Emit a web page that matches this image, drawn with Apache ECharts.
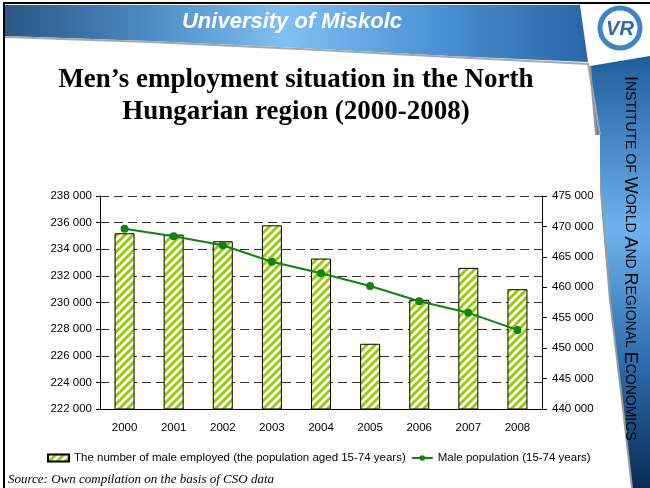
<!DOCTYPE html>
<html>
<head>
<meta charset="utf-8">
<title>Men's employment situation</title>
<script src="https://cdn.jsdelivr.net/npm/echarts@6/dist/echarts.min.js"></script>
<style>
    html, body { margin: 0; padding: 0; background: #fff; }
    #main { width: 650px; height: 488px; }
</style>
</head>
<body>
<div id="main"></div>
<script>
    var years = ['2000', '2001', '2002', '2003', '2004', '2005', '2006', '2007', '2008'];
    // male employed, left axis
    var employed = [235200, 235100, 234600, 235800, 233300, 226900, 230200, 232600, 231000];
    // male population 15-74, right axis
    var population = [469600, 468400, 466900, 464200, 462300, 460200, 457700, 455800, 453000];
    var leftRange = [222000, 238000, 2000];
    var rightRange = [440000, 475000, 5000];
    var seriesNames = ['The number of male employed (the population aged 15-74 years)', 'Male population (15-74 years)'];

    function fmt(v) {
        return String(v).replace(/\B(?=(\d{3})+(?!\d))/g, ' ');
    }

    // striped fill for the bars
    var pat = document.createElement('canvas');
    pat.width = 8;
    pat.height = 8;
    var ctx = pat.getContext('2d');
    ctx.fillStyle = '#fff';
    ctx.fillRect(0, 0, 8, 8);
    ctx.strokeStyle = '#99cc00';
    ctx.lineWidth = 3;
    ctx.beginPath();
    ctx.moveTo(-2, 10); ctx.lineTo(10, -2);
    ctx.moveTo(-2, 2); ctx.lineTo(2, -2);
    ctx.moveTo(6, 10); ctx.lineTo(10, 6);
    ctx.stroke();

    var myChart = echarts.init(document.getElementById('main'));
    var option = {
        animation: false,
        textStyle: { fontFamily: 'Liberation Sans, Arial, sans-serif' },
        graphic: [
            // header band
            {
                type: 'polygon', z: -10,
                shape: { points: [[5, 5], [580, 5], [588, 62], [450, 56], [300, 48], [150, 41], [5, 36]] },
                style: {
                    fill: { type: 'linear', x: 0, y: 0, x2: 1, y2: 0, colorStops: [
                        { offset: 0, color: '#2a5786' },
                        { offset: 0.25, color: '#4d8cc6' },
                        { offset: 0.48, color: '#80c0f4' },
                        { offset: 0.75, color: '#4a90d2' },
                        { offset: 1, color: '#2866a8' }
                    ] }
                }
            },
            {
                type: 'polyline', z: -9,
                shape: { points: [[5, 37], [150, 42], [300, 49], [450, 57], [588, 64], [600, 135]] },
                style: { stroke: '#a8a8a8', lineWidth: 2, fill: null }
            },
            // right strip
            {
                type: 'polygon', z: -10,
                shape: { points: [[590, 66], [650, 56], [650, 488], [632, 488], [622, 400], [610, 300], [600, 180]] },
                style: {
                    fill: { type: 'linear', x: 0, y: 0, x2: 0, y2: 1, colorStops: [
                        { offset: 0, color: '#1f5c9c' },
                        { offset: 0.4, color: '#6eb4ec' },
                        { offset: 0.7, color: '#2e6eb0' },
                        { offset: 1, color: '#0b2c55' }
                    ] }
                }
            },
            {
                type: 'polyline', z: -9,
                shape: { points: [[590, 66], [600, 180], [610, 300], [622, 400], [632, 488]] },
                style: { stroke: '#9a9a9a', lineWidth: 2, fill: null }
            },
            {
                type: 'text', z: -8, x: 630, y: 76, rotation: -Math.PI / 2,
                style: {
                    text: '{b|I}{s|NSTITUTE OF }{b|W}{s|ORLD }{b|A}{s|ND }{b|R}{s|EGIONAL }{b|E}{s|CONOMICS}',
                    textAlign: 'left', textVerticalAlign: 'middle',
                    rich: {
                        b: { fontSize: 18, color: '#fff', fontFamily: 'Liberation Sans' },
                        s: { fontSize: 14, color: '#fff', fontFamily: 'Liberation Sans' }
                    }
                }
            },
            // logo
            {
                type: 'circle', z: -8,
                shape: { cx: 620, cy: 28, r: 20 },
                style: { fill: null, stroke: '#3d85c8', lineWidth: 5 }
            },
            {
                type: 'text', z: -8, x: 620, y: 29,
                style: { text: 'VR', textAlign: 'center', textVerticalAlign: 'middle', fontSize: 20, fontWeight: 'bold', fontStyle: 'italic', fill: '#2f6aa8', fontFamily: 'Liberation Sans' }
            },
            // white chart box
            {
                type: 'rect', z: -7,
                shape: { x: 6, y: 135, width: 594, height: 332 },
                style: { fill: '#fff' }
            },
            // frame
            {
                type: 'polyline', z: 10,
                shape: { points: [[4, 488], [4, 3], [650, 3]] },
                style: { stroke: '#000', lineWidth: 2, fill: null }
            },
            {
                type: 'text', x: 292, y: 22,
                style: { text: 'University of Miskolc', textAlign: 'center', textVerticalAlign: 'middle', fontSize: 22, fontWeight: 'bold', fontStyle: 'italic', fill: '#fff', fontFamily: 'Liberation Sans' }
            },
            {
                type: 'text', x: 296, y: 96,
                style: {
                    text: 'Men\u2019s employment situation in the North\nHungarian region (2000-2008)',
                    textAlign: 'center', textVerticalAlign: 'middle', fontSize: 27, lineHeight: 32,
                    fontWeight: 'bold', fill: '#000', fontFamily: 'Liberation Serif'
                }
            },
            {
                type: 'text', x: 8, y: 480,
                style: { text: 'Source: Own compilation on the basis of CSO data', textVerticalAlign: 'middle', fontSize: 13, fontStyle: 'italic', fill: '#000', fontFamily: 'Liberation Serif' }
            }
        ],
        grid: { left: 100, right: 108, top: 196, bottom: 79 },
        legend: {
            left: 42, top: 447,
            itemWidth: 21, itemHeight: 7, itemGap: 5,
            textStyle: { fontSize: 11.5, color: '#000' },
            data: [{ name: seriesNames[0], icon: 'rect' }, { name: seriesNames[1] }]
        },
        xAxis: {
            type: 'category',
            data: years,
            axisLine: { lineStyle: { color: '#000', width: 1 } },
            axisTick: { length: 4, lineStyle: { color: '#000' } },
            axisLabel: { color: '#000', fontSize: 11.5, margin: 13 }
        },
        yAxis: [
            {
                type: 'value',
                min: leftRange[0], max: leftRange[1], interval: leftRange[2],
                axisLine: { show: true, lineStyle: { color: '#000' } },
                axisTick: { show: true, length: 4, lineStyle: { color: '#000' } },
                axisLabel: { color: '#000', fontSize: 11.5, margin: 8, formatter: fmt },
                splitLine: { lineStyle: { color: '#333', width: 1.2, type: [9, 5] } }
            },
            {
                type: 'value', position: 'right',
                min: rightRange[0], max: rightRange[1], interval: rightRange[2],
                axisLine: { show: true, lineStyle: { color: '#000' } },
                axisTick: { show: true, length: 5, lineStyle: { color: '#000' } },
                axisLabel: { color: '#000', fontSize: 11.5, margin: 10, formatter: fmt },
                splitLine: { show: false }
            }
        ],
        series: [
            {
                name: seriesNames[0],
                type: 'bar',
                barWidth: 20,
                data: employed,
                itemStyle: { color: { image: pat, repeat: 'repeat' }, borderColor: '#000', borderWidth: 1 }
            },
            {
                name: seriesNames[1],
                type: 'line',
                yAxisIndex: 1,
                data: population,
                symbol: 'circle',
                symbolSize: 8,
                lineStyle: { color: '#0a860a', width: 2 },
                itemStyle: { color: '#0a860a' }
            }
        ]
    };
    myChart.setOption(option);
</script>
</body>
</html>
